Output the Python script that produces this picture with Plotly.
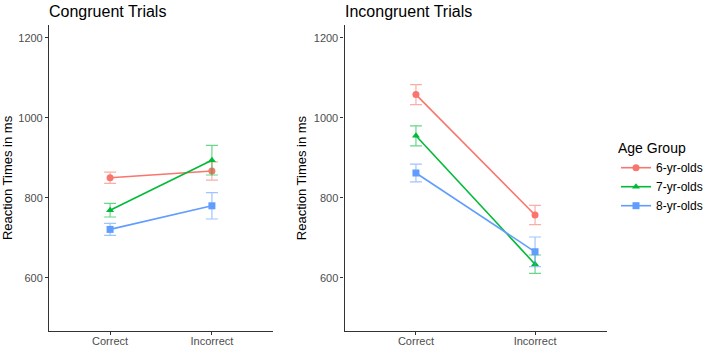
import plotly.graph_objects as go

categories = ["Correct", "Incorrect"]
groups = ["6-yr-olds", "7-yr-olds", "8-yr-olds"]

# Congruent trials: mean RT and error half-widths (ms)
cong_6 = [850, 867]
cong_7 = [769, 894]
cong_8 = [721, 780]
cong_6_err = [14, 23]
cong_7_err = [17, 37]
cong_8_err = [15, 33]

# Incongruent trials
incong_6 = [1058, 757]
incong_7 = [955, 634]
incong_8 = [862, 665]
incong_6_err = [25, 24]
incong_7_err = [25, 23]
incong_8_err = [22, 37]

y_ticks = [600, 800, 1000, 1200]

colors = ["#F8766D", "#00BA38", "#619CFF"]
err_colors = ["rgba(248,118,109,0.6)", "rgba(0,186,56,0.6)", "rgba(97,156,255,0.6)"]
symbols = ["circle", "triangle-up", "square"]

cong = [(cong_6, cong_6_err), (cong_7, cong_7_err), (cong_8, cong_8_err)]
incong = [(incong_6, incong_6_err), (incong_7, incong_7_err), (incong_8, incong_8_err)]

fig = go.Figure()
for panel, (data, xa, ya) in enumerate([(cong, "x", "y"), (incong, "x2", "y2")]):
    for i, (vals, errs) in enumerate(data):
        fig.add_trace(go.Scatter(
            x=categories, y=vals, xaxis=xa, yaxis=ya,
            mode="lines+markers", name=groups[i], legendgroup=groups[i],
            showlegend=(panel == 0),
            line=dict(color=colors[i], width=1.6),
            marker=dict(color=colors[i], symbol=symbols[i], size=7),
            error_y=dict(type="data", array=errs, visible=True,
                         color=err_colors[i], thickness=1.2, width=6),
        ))

W, H = 708, 348
T, B = 25, 17
PH = H - T - B
FONT = "Liberation Sans, Arial, sans-serif"
axis_common = dict(showline=True, linecolor="#333333", linewidth=1.1, showgrid=False,
                   zeroline=False, ticks="outside", ticklen=3, tickcolor="#333333",
                   automargin=False,
                   tickfont=dict(family=FONT, size=11, color="#4d4d4d"))
ytitle = dict(text="Reaction Times in ms", font=dict(family=FONT, size=13, color="#000000"),
              standoff=4)
fig.update_layout(
    width=W, height=H,
    margin=dict(l=0, r=0, t=T, b=B, autoexpand=False),
    paper_bgcolor="white", plot_bgcolor="white",
    font=dict(family=FONT, color="#000000"),
    xaxis=dict(domain=[49 / W, 273 / W], type="category", range=[-0.6, 1.6],
               anchor="y", ticklabelstandoff=-3, **axis_common),
    yaxis=dict(domain=[0, 1], range=[467, 1232], tickvals=y_ticks, anchor="x",
               title=ytitle, **axis_common),
    xaxis2=dict(domain=[344.5 / W, 606.5 / W], type="category", range=[-0.6, 1.6],
                anchor="y2", ticklabelstandoff=-3, **axis_common),
    yaxis2=dict(domain=[0, 1], range=[467, 1232], tickvals=y_ticks, anchor="x2",
                title=ytitle, **axis_common),
    legend=dict(x=616 / W, y=(H - B - 178) / PH, xanchor="left", yanchor="middle",
                title=dict(text="Age Group", font=dict(family=FONT, size=14, color="#000000")),
                font=dict(family=FONT, size=12, color="#000000"), tracegroupgap=0,
                itemwidth=30, bgcolor="rgba(0,0,0,0)"),
    annotations=[
        dict(text="Congruent Trials", x=47 / W, y=(H - B - 12) / PH, xref="paper",
             yref="paper", yanchor="middle", xanchor="left", showarrow=False,
             font=dict(family=FONT, size=16, color="#000000")),
        dict(text="Incongruent Trials", x=343 / W, y=(H - B - 12) / PH, xref="paper",
             yref="paper", yanchor="middle", xanchor="left", showarrow=False,
             font=dict(family=FONT, size=16, color="#000000")),
    ],
)

fig.write_html("out.html", config={"displayModeBar": False},
               post_script="document.body.style.margin='0';")
